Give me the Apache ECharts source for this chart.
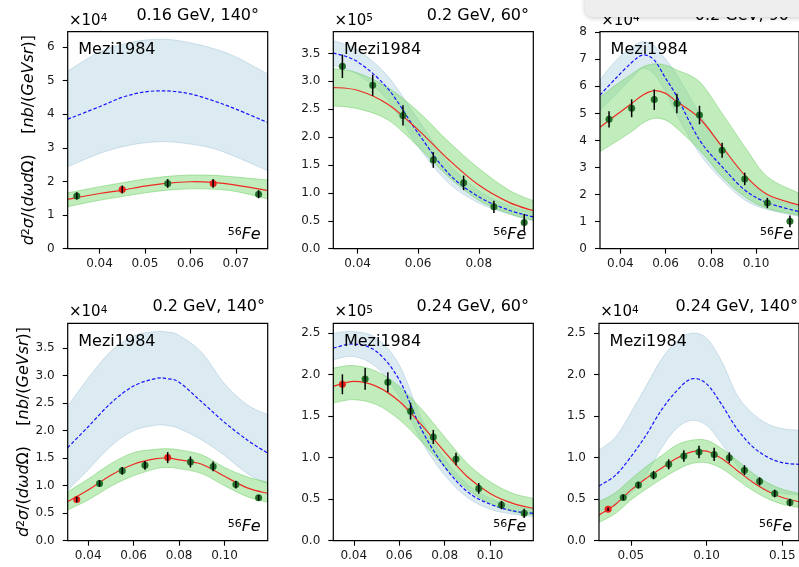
<!DOCTYPE html>
<html>
<head>
<meta charset="utf-8">
<script src="https://cdn.jsdelivr.net/npm/echarts@6/dist/echarts.min.js"></script>
<style>
  html, body { margin: 0; padding: 0; background: #fff; }
  #chart { width: 799px; height: 567px; }
</style>
</head>
<body>
<div id="chart"></div>
<script>
// 56Fe inclusive cross sections, Mezi1984 data against two model curves with bands.
// Values are in units of 10^exp nb/(GeV sr); x is the energy transfer in GeV.

// ---- 0.16 GeV, 140° ----
const p1_title = '0.16 GeV, 140°';
const p1_exp = 4;
const p1_xRange = [0.033, 0.077];
const p1_yMax = 6.45;
const p1_xTicks = ['0.04', '0.05', '0.06', '0.07'];
const p1_yTicks = ['0', '1', '2', '3', '4', '5', '6'];
const p1_curveX  = [0.033, 0.04, 0.045, 0.05, 0.055, 0.06, 0.065, 0.07, 0.077];
const p1_fit     = [1.47, 1.64, 1.74, 1.86, 1.95, 1.99, 1.97, 1.89, 1.73];
const p1_fitHi   = [1.66, 1.84, 1.96, 2.07, 2.15, 2.19, 2.18, 2.13, 2.04];
const p1_fitLo   = [1.25, 1.44, 1.55, 1.66, 1.74, 1.78, 1.77, 1.70, 1.48];
const p1_model   = [3.85, 4.22, 4.50, 4.66, 4.69, 4.60, 4.40, 4.15, 3.75];
const p1_modelHi = [5.28, 5.85, 6.07, 6.20, 6.22, 6.12, 5.95, 5.70, 5.19];
const p1_modelLo = [2.44, 2.83, 3.03, 3.15, 3.18, 3.11, 2.98, 2.73, 2.32];
const p1_ptX   = [0.035, 0.045, 0.055, 0.065, 0.075];
const p1_ptY   = [1.57, 1.76, 1.94, 1.94, 1.62];
const p1_ptErr = [0.11, 0.12, 0.13, 0.13, 0.12];
const p1_ptRed = [0, 1, 0, 1, 0];

// ---- 0.2 GeV, 60° ----
const p2_title = '0.2 GeV, 60°';
const p2_exp = 5;
const p2_xRange = [0.032, 0.098];
const p2_yMax = 3.89;
const p2_xTicks = ['0.04', '0.06', '0.08'];
const p2_yTicks = ['0.0', '0.5', '1.0', '1.5', '2.0', '2.5', '3.0', '3.5'];
const p2_curveX  = [0.032, 0.04, 0.05, 0.06, 0.07, 0.08, 0.09, 0.098];
const p2_fit     = [2.89, 2.84, 2.59, 2.13, 1.60, 1.14, 0.83, 0.68];
const p2_fitHi   = [3.23, 3.15, 2.89, 2.46, 1.92, 1.44, 1.05, 0.86];
const p2_fitLo   = [2.56, 2.51, 2.31, 1.83, 1.29, 0.87, 0.63, 0.51];
const p2_model   = [3.51, 3.35, 2.87, 2.07, 1.35, 0.93, 0.69, 0.57];
const p2_modelHi = [3.73, 3.56, 3.09, 2.31, 1.53, 1.04, 0.77, 0.65];
const p2_modelLo = [3.29, 3.13, 2.66, 1.83, 1.18, 0.82, 0.62, 0.50];
const p2_ptX   = [0.035, 0.045, 0.055, 0.065, 0.075, 0.085, 0.095];
const p2_ptY   = [3.27, 2.93, 2.39, 1.59, 1.18, 0.75, 0.47];
const p2_ptErr = [0.21, 0.19, 0.18, 0.14, 0.13, 0.11, 0.15];
const p2_ptRed = [0, 0, 0, 0, 0, 0, 0];

// ---- 0.2 GeV, 90° ----
const p3_title = '0.2 GeV, 90°';
const p3_exp = 4;
const p3_xRange = [0.031, 0.119];
const p3_yMax = 8.02;
const p3_xTicks = ['0.04', '0.06', '0.08', '0.10'];
const p3_yTicks = ['0', '1', '2', '3', '4', '5', '6', '7', '8'];
const p3_curveX  = [0.031, 0.038, 0.045, 0.05, 0.055, 0.06, 0.065, 0.075, 0.085, 0.095, 0.105, 0.119];
const p3_fit     = [4.49, 4.93, 5.37, 5.68, 5.84, 5.74, 5.43, 4.82, 3.77, 2.72, 2.00, 1.61];
const p3_fitHi   = [5.60, 6.05, 6.45, 6.72, 6.83, 6.78, 6.60, 6.17, 5.00, 3.77, 2.66, 2.05];
const p3_fitLo   = [3.59, 3.95, 4.33, 4.65, 4.82, 4.75, 4.45, 3.65, 2.66, 1.92, 1.49, 1.24];
const p3_model   = [5.68, 6.30, 6.88, 7.16, 6.97, 6.30, 5.62, 4.02, 3.03, 2.17, 1.70, 1.37];
const p3_modelHi = [6.24, 6.95, 7.45, 7.65, 7.50, 7.00, 6.42, 5.00, 3.77, 2.66, 1.95, 1.55];
const p3_modelLo = [5.13, 5.70, 6.30, 6.67, 6.45, 5.80, 4.94, 3.52, 2.54, 1.80, 1.45, 1.20];
const p3_ptX   = [0.035, 0.045, 0.055, 0.065, 0.075, 0.085, 0.095, 0.105, 0.115];
const p3_ptY   = [4.78, 5.19, 5.51, 5.37, 4.94, 3.64, 2.58, 1.69, 1.01];
const p3_ptErr = [0.30, 0.33, 0.38, 0.36, 0.34, 0.28, 0.23, 0.19, 0.22];
const p3_ptRed = [0, 0, 0, 0, 0, 0, 0, 0, 0];

// ---- 0.2 GeV, 140° ----
const p4_title = '0.2 GeV, 140°';
const p4_exp = 4;
const p4_xRange = [0.031, 0.119];
const p4_yMax = 3.95;
const p4_xTicks = ['0.04', '0.06', '0.08', '0.10'];
const p4_yTicks = ['0.0', '0.5', '1.0', '1.5', '2.0', '2.5', '3.0', '3.5'];
const p4_curveX  = [0.031, 0.04, 0.05, 0.06, 0.07, 0.075, 0.08, 0.09, 0.10, 0.11, 0.119];
const p4_fit     = [0.71, 0.92, 1.19, 1.39, 1.49, 1.50, 1.47, 1.39, 1.17, 0.96, 0.86];
const p4_fitHi   = [0.89, 1.12, 1.40, 1.60, 1.66, 1.67, 1.65, 1.56, 1.33, 1.16, 1.06];
const p4_fitLo   = [0.56, 0.74, 0.99, 1.18, 1.31, 1.33, 1.31, 1.22, 1.00, 0.80, 0.70];
const p4_model   = [1.69, 2.07, 2.50, 2.81, 2.95, 2.94, 2.88, 2.52, 2.15, 1.83, 1.59];
const p4_modelHi = [2.44, 2.95, 3.44, 3.72, 3.80, 3.79, 3.73, 3.42, 2.85, 2.47, 2.29];
const p4_modelLo = [0.92, 1.29, 1.72, 2.00, 2.10, 2.09, 2.04, 1.83, 1.55, 1.22, 1.03];
const p4_ptX   = [0.035, 0.045, 0.055, 0.065, 0.075, 0.085, 0.095, 0.105, 0.115];
const p4_ptY   = [0.75, 1.04, 1.27, 1.37, 1.51, 1.43, 1.35, 1.02, 0.78];
const p4_ptErr = [0.05, 0.06, 0.07, 0.08, 0.10, 0.10, 0.09, 0.07, 0.05];
const p4_ptRed = [1, 0, 0, 0, 1, 0, 0, 0, 0];

// ---- 0.24 GeV, 60° ----
const p5_title = '0.24 GeV, 60°';
const p5_exp = 5;
const p5_xRange = [0.031, 0.119];
const p5_yMax = 2.62;
const p5_xTicks = ['0.04', '0.06', '0.08', '0.10'];
const p5_yTicks = ['0.0', '0.5', '1.0', '1.5', '2.0', '2.5'];
const p5_curveX  = [0.031, 0.04, 0.05, 0.06, 0.07, 0.08, 0.09, 0.10, 0.11, 0.119];
const p5_fit     = [1.86, 1.92, 1.86, 1.68, 1.39, 1.07, 0.77, 0.57, 0.45, 0.39];
const p5_fitHi   = [2.08, 2.11, 2.04, 1.86, 1.58, 1.25, 0.93, 0.71, 0.57, 0.51];
const p5_fitLo   = [1.66, 1.70, 1.64, 1.46, 1.19, 0.89, 0.62, 0.45, 0.35, 0.31];
const p5_model   = [2.32, 2.37, 2.28, 1.94, 1.33, 0.89, 0.59, 0.44, 0.36, 0.33];
const p5_modelHi = [2.50, 2.52, 2.44, 2.12, 1.46, 0.99, 0.68, 0.51, 0.42, 0.38];
const p5_modelLo = [2.18, 2.22, 2.09, 1.74, 1.19, 0.79, 0.52, 0.38, 0.32, 0.29];
const p5_ptX   = [0.035, 0.045, 0.055, 0.065, 0.075, 0.085, 0.095, 0.105, 0.115];
const p5_ptY   = [1.885, 1.95, 1.91, 1.56, 1.25, 0.985, 0.63, 0.43, 0.33];
const p5_ptErr = [0.12, 0.13, 0.12, 0.10, 0.085, 0.075, 0.065, 0.05, 0.055];
const p5_ptRed = [1, 0, 0, 0, 0, 0, 0, 0, 0];

// ---- 0.24 GeV, 140° ----
const p6_title = '0.24 GeV, 140°';
const p6_exp = 4;
const p6_xRange = [0.029, 0.161];
const p6_yMax = 2.62;
const p6_xTicks = ['0.05', '0.10', '0.15'];
const p6_yTicks = ['0.0', '0.5', '1.0', '1.5', '2.0', '2.5'];
const p6_curveX  = [0.029, 0.04, 0.05, 0.06, 0.07, 0.08, 0.09, 0.10, 0.11, 0.12, 0.13, 0.14, 0.15, 0.161];
const p6_fit     = [0.31, 0.44, 0.61, 0.75, 0.87, 0.99, 1.07, 1.08, 0.99, 0.85, 0.71, 0.60, 0.52, 0.47];
const p6_fitHi   = [0.47, 0.58, 0.74, 0.89, 1.02, 1.15, 1.21, 1.21, 1.11, 0.97, 0.82, 0.70, 0.62, 0.57];
const p6_fitLo   = [0.22, 0.33, 0.49, 0.62, 0.74, 0.85, 0.93, 0.94, 0.87, 0.74, 0.61, 0.51, 0.44, 0.40];
const p6_model   = [0.66, 0.79, 1.01, 1.27, 1.57, 1.80, 1.95, 1.89, 1.64, 1.35, 1.14, 1.01, 0.94, 0.92];
const p6_modelHi = [1.09, 1.25, 1.54, 1.86, 2.18, 2.40, 2.50, 2.44, 2.16, 1.76, 1.54, 1.41, 1.35, 1.33];
const p6_modelLo = [0.35, 0.45, 0.57, 0.79, 1.11, 1.35, 1.45, 1.39, 1.17, 0.91, 0.71, 0.61, 0.57, 0.55];
const p6_ptX   = [0.035, 0.045, 0.055, 0.065, 0.075, 0.085, 0.095, 0.105, 0.115, 0.125, 0.135, 0.145, 0.155];
const p6_ptY   = [0.378, 0.52, 0.67, 0.79, 0.92, 1.02, 1.07, 1.04, 1.00, 0.85, 0.715, 0.57, 0.46];
const p6_ptErr = [0.02, 0.034, 0.04, 0.05, 0.06, 0.07, 0.075, 0.08, 0.065, 0.06, 0.05, 0.045, 0.045];
const p6_ptRed = [1, 0, 0, 0, 0, 0, 0, 0, 0, 0, 0, 0, 0];

// ---- assemble panels ----
function panel(title, exp, xRange, yMax, xTicks, yTicks, curveX, fit, fitHi, fitLo,
               model, modelHi, modelLo, ptX, ptY, ptErr, ptRed) {
  return { title, exp, xRange, yMax, xTicks, yTicks, curveX, fit, fitHi, fitLo,
           model, modelHi, modelLo, ptX, ptY, ptErr, ptRed };
}
const panels = [
  panel(p1_title, p1_exp, p1_xRange, p1_yMax, p1_xTicks, p1_yTicks, p1_curveX, p1_fit, p1_fitHi, p1_fitLo,
        p1_model, p1_modelHi, p1_modelLo, p1_ptX, p1_ptY, p1_ptErr, p1_ptRed),
  panel(p2_title, p2_exp, p2_xRange, p2_yMax, p2_xTicks, p2_yTicks, p2_curveX, p2_fit, p2_fitHi, p2_fitLo,
        p2_model, p2_modelHi, p2_modelLo, p2_ptX, p2_ptY, p2_ptErr, p2_ptRed),
  panel(p3_title, p3_exp, p3_xRange, p3_yMax, p3_xTicks, p3_yTicks, p3_curveX, p3_fit, p3_fitHi, p3_fitLo,
        p3_model, p3_modelHi, p3_modelLo, p3_ptX, p3_ptY, p3_ptErr, p3_ptRed),
  panel(p4_title, p4_exp, p4_xRange, p4_yMax, p4_xTicks, p4_yTicks, p4_curveX, p4_fit, p4_fitHi, p4_fitLo,
        p4_model, p4_modelHi, p4_modelLo, p4_ptX, p4_ptY, p4_ptErr, p4_ptRed),
  panel(p5_title, p5_exp, p5_xRange, p5_yMax, p5_xTicks, p5_yTicks, p5_curveX, p5_fit, p5_fitHi, p5_fitLo,
        p5_model, p5_modelHi, p5_modelLo, p5_ptX, p5_ptY, p5_ptErr, p5_ptRed),
  panel(p6_title, p6_exp, p6_xRange, p6_yMax, p6_xTicks, p6_yTicks, p6_curveX, p6_fit, p6_fitHi, p6_fitLo,
        p6_model, p6_modelHi, p6_modelLo, p6_ptX, p6_ptY, p6_ptErr, p6_ptRed)
];

// plot-area rectangles (px) and where each title ends on the right
const LAYOUT = [
  { l: 67.7,  t: 31.7,  w: 200, h: 217,   titleRight: 259 },
  { l: 333.3, t: 31.7,  w: 200, h: 217,   titleRight: 529 },
  { l: 600,   t: 31.7,  w: 200, h: 217,   titleRight: 797 },
  { l: 67.7,  t: 323.3, w: 200, h: 217.4, titleRight: 265 },
  { l: 333.3, t: 323.3, w: 200, h: 217.4, titleRight: 529 },
  { l: 599,   t: 323.3, w: 200, h: 217.4, titleRight: 798 }
];

const FONT = '"DejaVu Sans", sans-serif';
const BLUE_BAND = 'rgba(186,213,227,0.5)';
const BLUE_EDGE = 'rgba(170,202,220,0.55)';
const GREEN_BAND = 'rgba(130,220,120,0.5)';
const GREEN_EDGE = 'rgba(110,205,100,0.5)';
const FIT_RED = '#ee2a24';
const MODEL_BLUE = '#1414ff';
const PT_GREEN = '#23702a';
const PT_RED = '#e8231d';

function tickText(labels, v) {
  const k = labels.findIndex(s => Math.abs(Number(s) - v) < 1e-9);
  return k >= 0 ? labels[k] : '';
}

// Catmull-Rom style cubic segments through already projected points
function smoothSegments(pts) {
  let d = '';
  const n = pts.length;
  for (let k = 0; k < n - 1; k++) {
    const a = pts[Math.max(k - 1, 0)], b = pts[k], c = pts[k + 1], e = pts[Math.min(k + 2, n - 1)];
    const c1x = b[0] + (c[0] - a[0]) / 6, c1y = b[1] + (c[1] - a[1]) / 6;
    const c2x = c[0] - (e[0] - b[0]) / 6, c2y = c[1] - (e[1] - b[1]) / 6;
    d += ' C' + c1x + ' ' + c1y + ' ' + c2x + ' ' + c2y + ' ' + c[0] + ' ' + c[1];
  }
  return d;
}

// filled band between lo and hi, drawn once per series through the axis scales
function bandSeries(i, xs, lo, hi, fill, edge, z) {
  return {
    type: 'custom', xAxisIndex: i, yAxisIndex: i, z, clip: true, silent: true, animation: false,
    data: xs.map((x, k) => [x, lo[k], hi[k]]),
    encode: { x: 0, y: [1, 2] },
    renderItem: (params, api) => {
      if (params.dataIndex !== 0) return null;
      const up = xs.map((x, k) => api.coord([x, hi[k]]));
      const dn = xs.map((x, k) => api.coord([x, lo[k]])).reverse();
      const d = 'M' + up[0][0] + ' ' + up[0][1] + smoothSegments(up) +
                ' L' + dn[0][0] + ' ' + dn[0][1] + smoothSegments(dn) + ' Z';
      return { type: 'path', shape: { pathData: d },
               style: { fill, stroke: edge, lineWidth: 1 } };
    }
  };
}

// central curve through the same smoothing
function curveSeries(i, xs, ys, stroke, dash, z) {
  return {
    type: 'custom', xAxisIndex: i, yAxisIndex: i, z, clip: true, silent: true, animation: false,
    data: xs.map((x, k) => [x, ys[k]]),
    encode: { x: 0, y: 1 },
    renderItem: (params, api) => {
      if (params.dataIndex !== 0) return null;
      const pts = xs.map((x, k) => api.coord([x, ys[k]]));
      const d = 'M' + pts[0][0] + ' ' + pts[0][1] + smoothSegments(pts);
      return { type: 'path', shape: { pathData: d },
               style: { fill: null, stroke, lineWidth: 1.2, lineDash: dash } };
    }
  };
}

const grid = [], xAxis = [], yAxis = [], series = [], graphic = [];

panels.forEach((p, i) => {
  const L = LAYOUT[i];
  grid.push({
    left: L.l, top: L.t, width: L.w, height: L.h,
    show: true, borderColor: '#000', borderWidth: 1.2,
    backgroundColor: 'rgba(0,0,0,0)', z: 10
  });

  const xVals = p.xTicks.map(Number);
  xAxis.push({
    type: 'value', gridIndex: i, min: p.xRange[0], max: p.xRange[1],
    axisLine: { show: false }, splitLine: { show: false },
    axisTick: { show: true, customValues: xVals, length: 5, lineStyle: { color: '#000', width: 1.1 } },
    axisLabel: { customValues: xVals, formatter: v => tickText(p.xTicks, v),
                 margin: 9, fontSize: 12, color: '#1a1a1a', fontFamily: FONT }
  });

  const yVals = p.yTicks.map(Number);
  const yAx = {
    type: 'value', gridIndex: i, min: 0, max: p.yMax,
    axisLine: { show: false }, splitLine: { show: false },
    axisTick: { show: true, customValues: yVals, length: 5, lineStyle: { color: '#000', width: 1.1 } },
    axisLabel: { customValues: yVals, formatter: v => tickText(p.yTicks, v),
                 margin: 13, fontSize: 12, color: '#1a1a1a', fontFamily: FONT }
  };
  if (i % 3 === 0) {
    yAx.name = '{i|d}{s|2}{i|σ}{r|/(}{i|dωd}{r|Ω)}{r|    [}{i|nb}{r|/(}{i|GeVsr}{r|)]}';
    yAx.nameLocation = 'middle';
    yAx.nameRotate = 90;
    yAx.nameGap = 31;
    yAx.nameTextStyle = {
      fontSize: 16, fontFamily: FONT, color: '#000',
      rich: {
        i: { fontSize: 16, fontFamily: FONT, fontStyle: 'italic', color: '#000' },
        r: { fontSize: 16, fontFamily: FONT, color: '#000' },
        s: { fontSize: 11, fontFamily: FONT, color: '#000', verticalAlign: 'top' }
      }
    };
  }
  yAxis.push(yAx);

  series.push(bandSeries(i, p.curveX, p.modelLo, p.modelHi, BLUE_BAND, BLUE_EDGE, 1));
  series.push(bandSeries(i, p.curveX, p.fitLo, p.fitHi, GREEN_BAND, GREEN_EDGE, 2));
  series.push(curveSeries(i, p.curveX, p.model, MODEL_BLUE, [3.5, 2], 3));
  series.push(curveSeries(i, p.curveX, p.fit, FIT_RED, null, 4));

  // data points
  series.push({
    type: 'scatter', xAxisIndex: i, yAxisIndex: i, silent: true, animation: false, z: 5,
    symbol: 'circle', symbolSize: 7,
    data: p.ptX.map((x, k) => [x, p.ptY[k], p.ptRed[k]]),
    itemStyle: { color: d => (d.value[2] ? PT_RED : PT_GREEN), opacity: 1 }
  });
  // error bars
  series.push({
    type: 'custom', xAxisIndex: i, yAxisIndex: i, silent: true, animation: false, z: 6,
    data: p.ptX.map((x, k) => [x, p.ptY[k], p.ptErr[k]]),
    encode: { x: 0, y: 1 },
    renderItem: (params, api) => {
      const x = api.value(0), y = api.value(1), e = api.value(2);
      const a = api.coord([x, y - e]), b = api.coord([x, y + e]);
      return { type: 'line', shape: { x1: a[0], y1: a[1], x2: b[0], y2: b[1] },
               style: { stroke: '#000', lineWidth: 1.5 } };
    }
  });

  // texts around and inside the plot area
  graphic.push({
    type: 'text', x: L.l + 1.3, y: L.t - 11, z: 50,
    style: {
      text: '{m|×10}{s|' + p.exp + '}', align: 'left', verticalAlign: 'middle',
      rich: {
        m: { fontSize: 15, fontFamily: FONT, fill: '#000' },
        s: { fontSize: 10.5, fontFamily: FONT, fill: '#000', verticalAlign: 'top' }
      }
    }
  });
  graphic.push({
    type: 'text', x: L.titleRight, y: L.t - 16.3, z: 50,
    style: { text: p.title, fontSize: 16, fontFamily: FONT, fill: '#000',
             align: 'right', verticalAlign: 'middle' }
  });
  graphic.push({
    type: 'text', x: L.l + 10.6, y: L.t + 18.5, z: 50,
    style: { text: 'Mezi1984', fontSize: 16, fontFamily: FONT, fill: '#000',
             align: 'left', verticalAlign: 'middle' }
  });
  graphic.push({
    type: 'text', x: L.l + L.w - 7, y: L.t + L.h - 14, z: 50,
    style: {
      text: '{s|56}{i|Fe}', align: 'right', verticalAlign: 'middle',
      rich: {
        s: { fontSize: 11, fontFamily: FONT, fill: '#000', verticalAlign: 'top' },
        i: { fontSize: 16, fontFamily: FONT, fontStyle: 'italic', fill: '#000' }
      }
    }
  });
});

// floating rounded bar lying over the top-right corner
graphic.push({
  type: 'rect', z: 100,
  shape: { x: 585, y: -20, width: 260, height: 37, r: 8 },
  style: { fill: '#eeeeee', shadowBlur: 5, shadowColor: 'rgba(0,0,0,0.22)', shadowOffsetY: 1 }
});

const chart = echarts.init(document.getElementById('chart'), null, { renderer: 'canvas' });
chart.setOption({
  animation: false,
  backgroundColor: '#ffffff',
  grid, xAxis, yAxis, series, graphic
});
</script>
</body>
</html>
